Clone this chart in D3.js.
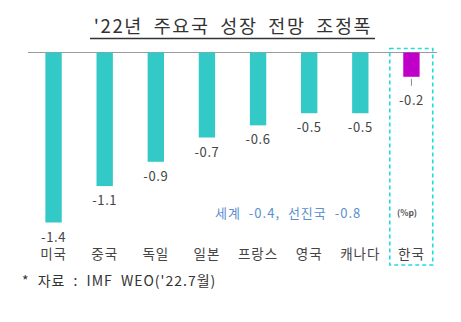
<!DOCTYPE html>
<html>
<head>
<meta charset="utf-8">
<script src="https://cdn.jsdelivr.net/npm/d3@7"></script>
<style>
  html, body { margin: 0; padding: 0; background: #fff; }
  svg { display: block; font-family: "Noto Sans CJK KR", "Noto Sans", sans-serif; }
</style>
</head>
<body>
<svg id="chart" width="461" height="322"></svg>
<script>
// 2022 growth forecast revisions by country (%p)
const countries = ["미국", "중국", "독일", "일본", "프랑스", "영국", "캐나다", "한국"];
const revisions = [-1.4, -1.1, -0.9, -0.7, -0.6, -0.5, -0.5, -0.2];
const highlight = "한국";
const titleText = "'22년 주요국 성장 전망 조정폭";
const noteText = "세계 -0.4, 선진국 -0.8";
const unitText = "(%p)";
const sourceText = "* 자료 : IMF WEO('22.7월)";

const svg = d3.select("#chart");

const x = d3.scaleBand().domain(countries).range([28, 437]).paddingInner(0.68).paddingOuter(0.34);
const y = d3.scaleLinear().domain([-1.4, 0]).range([222.5, 52.5]);

// title with underline
svg.append("text")
  .attr("x", 233).attr("y", 33)
  .attr("text-anchor", "middle")
  .attr("font-size", 18.5)
  .attr("letter-spacing", 1.6)
  .attr("word-spacing", 5)
  .attr("fill", "#333")
  .text(titleText);
svg.append("line")
  .attr("x1", 90).attr("x2", 375)
  .attr("y1", 38.5).attr("y2", 38.5)
  .attr("stroke", "#333").attr("stroke-width", 1.3);

// zero line
svg.append("line")
  .attr("x1", 28).attr("x2", 437)
  .attr("y1", y(0)).attr("y2", y(0))
  .attr("stroke", "#9a9a9a").attr("stroke-width", 1);

// bars
svg.append("g").selectAll("rect")
  .data(countries)
  .join("rect")
  .attr("x", d => x(d))
  .attr("width", x.bandwidth())
  .attr("y", y(0))
  .attr("height", (d, i) => y(revisions[i]) - y(0))
  .attr("fill", d => d === highlight ? "#c000c8" : "#33c9c7");

// leader tick under the highlighted bar
const hi = countries.indexOf(highlight);
svg.append("line")
  .attr("x1", x(highlight) + x.bandwidth() / 2)
  .attr("x2", x(highlight) + x.bandwidth() / 2)
  .attr("y1", y(revisions[hi]) + 2)
  .attr("y2", y(revisions[hi]) + 9)
  .attr("stroke", "#888").attr("stroke-width", 1);

// value labels
svg.append("g").selectAll("text")
  .data(countries)
  .join("text")
  .attr("x", d => x(d) + x.bandwidth() / 2)
  .attr("y", (d, i) => y(revisions[i]) + (d === highlight ? 28 : 19))
  .attr("text-anchor", "middle")
  .attr("font-size", 13)
  .attr("letter-spacing", 0.6)
  .attr("fill", "#444")
  .text((d, i) => revisions[i].toFixed(1));

// category labels
const axis = d3.axisBottom(x).tickSize(0).tickPadding(0);
const ax = svg.append("g").attr("transform", "translate(0,249)").call(axis);
ax.select(".domain").remove();
ax.selectAll("text")
  .attr("font-size", 13.5)
  .attr("letter-spacing", 1)
  .attr("fill", "#444")
  .attr("font-family", "\"Noto Sans CJK KR\", sans-serif");

// world / advanced economies note
svg.append("text")
  .attr("x", 215).attr("y", 217.5)
  .attr("font-size", 13)
  .attr("letter-spacing", 1)
  .attr("word-spacing", 4)
  .attr("fill", "#5b8fd0")
  .text(noteText);

svg.append("text")
  .attr("x", 397).attr("y", 216)
  .attr("font-size", 8.5)
  .attr("font-weight", "bold")
  .attr("fill", "#555")
  .text(unitText);

// dashed frame around the highlighted country
svg.append("rect")
  .attr("x", x(highlight) - 13.5)
  .attr("y", 48.5)
  .attr("width", 43)
  .attr("height", 216.5)
  .attr("fill", "none")
  .attr("stroke", "#22dbe3")
  .attr("stroke-width", 1.6)
  .attr("stroke-dasharray", "4,3");

// source
svg.append("text")
  .attr("x", 22).attr("y", 286)
  .attr("font-size", 14)
  .attr("letter-spacing", 1)
  .attr("word-spacing", 4)
  .attr("fill", "#333")
  .text(sourceText);
</script>
</body>
</html>
